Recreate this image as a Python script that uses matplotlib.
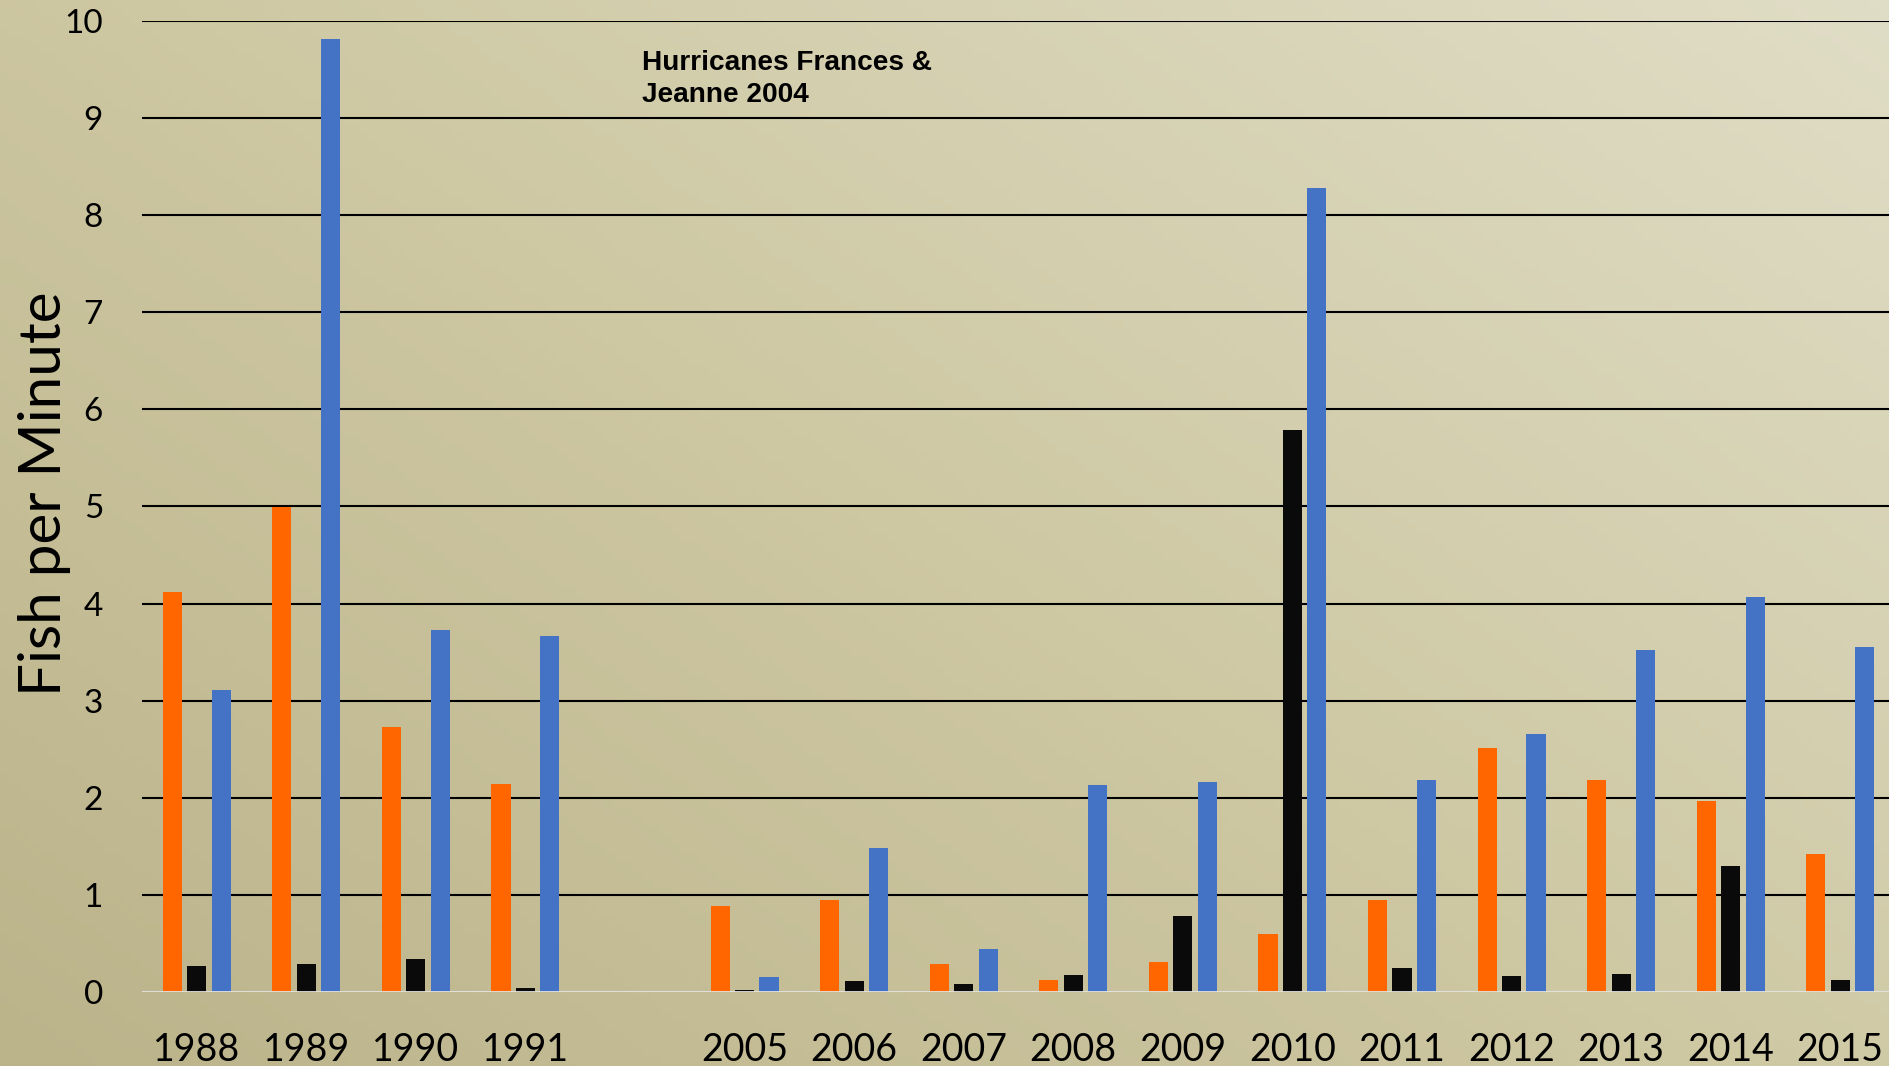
import numpy as np
import matplotlib
matplotlib.use("Agg")
import matplotlib.pyplot as plt
from matplotlib.colors import LinearSegmentedColormap

# ---- data ----
categories = ["1988", "1989", "1990", "1991", "", "2005", "2006", "2007", "2008",
              "2009", "2010", "2011", "2012", "2013", "2014", "2015"]
orange_vals = [4.12, 4.99, 2.73, 2.14, np.nan, 0.89, 0.95, 0.29, 0.12, 0.31, 0.60,
               0.95, 2.51, 2.18, 1.97, 1.42]
black_vals = [0.27, 0.29, 0.34, 0.045, np.nan, 0.02, 0.11, 0.08, 0.18, 0.78, 5.79,
              0.25, 0.16, 0.19, 1.30, 0.12]
blue_vals = [3.11, 9.81, 3.73, 3.67, np.nan, 0.15, 1.48, 0.44, 2.135, 2.16, 8.28,
             2.18, 2.66, 3.52, 4.07, 3.55]
y_ticks = [0, 1, 2, 3, 4, 5, 6, 7, 8, 9, 10]
annotation = "Hurricanes Frances &\nJeanne 2004"
y_label = "Fish per Minute"

W, H = 1889, 1066
fig = plt.figure(figsize=(W / 100, H / 100), dpi=100)

# background gradient (khaki, darker at lower-left, lighter at upper-right)
bg = fig.add_axes([0, 0, 1, 1], zorder=-10)
gx, gy = np.meshgrid(np.linspace(0, 1, 200), np.linspace(0, 1, 120))
g = 0.55 * gx + 0.45 * gy
cmap = LinearSegmentedColormap.from_list("bg", ["#BBB38A", "#CEC8A3", "#E0DDC6"])
bg.imshow(g, cmap=cmap, origin="lower", aspect="auto", extent=[0, 1, 0, 1])
bg.axis("off")

left = 142 / W
right = 1895 / W
bottom = (H - 992) / H
top = (H - 21) / H
ax = fig.add_axes([left, bottom, right - left, top - bottom])
ax.patch.set_alpha(0)

x = np.arange(len(categories))
step = 0.223
bw = 0.175
ax.bar(x - step, orange_vals, width=bw, color="#FF6600", zorder=3)
ax.bar(x, black_vals, width=bw, color="#0A0A0A", zorder=3)
ax.bar(x + step, blue_vals, width=bw, color="#4472C4", zorder=3)

ax.set_xlim(-0.5, len(categories) - 0.5)
ax.set_ylim(0, 10)
ax.set_yticks(y_ticks)
ax.set_xticks(x)
ax.set_xticklabels(categories)
for yv in y_ticks[1:]:
    ax.axhline(yv, color="black", lw=1.5, zorder=1)
ax.axhline(0, color="#E4E4E4", lw=2, zorder=4)

for s in ax.spines.values():
    s.set_visible(False)
ax.tick_params(axis="both", length=0)
ax.tick_params(axis="y", pad=28, labelsize=24)
ax.tick_params(axis="x", pad=29, labelsize=27)
for lab in ax.get_xticklabels() + ax.get_yticklabels():
    lab.set_fontfamily("Lato")
    lab.set_color("black")

fig.text(45 / W, 1 - 494 / H, y_label, rotation=90, ha="center", va="center",
         fontsize=42, family="Lato", color="black")

fig.text(642 / W, 1 - 50 / H, annotation, ha="left", va="top", fontsize=20.2,
         fontweight="bold", family="Liberation Sans", color="black",
         linespacing=1.3)

fig.savefig("out.png", dpi=100)
